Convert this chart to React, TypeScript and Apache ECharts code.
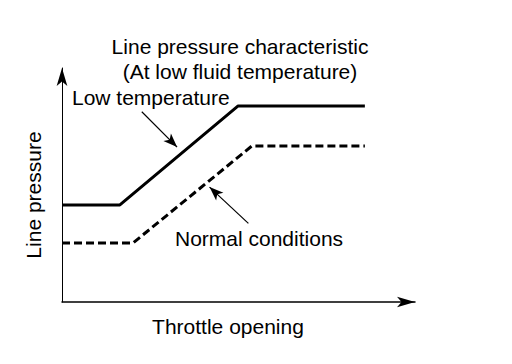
import React, { useEffect, useRef } from "react";
import * as echarts from "echarts";

const titleLines = ["Line pressure characteristic", "(At low fluid temperature)"];
const xAxisName = "Throttle opening";
const yAxisName = "Line pressure";
const lowTempName = "Low temperature";
const normalName = "Normal conditions";

// [throttle %, pressure %]
const lowTemp: [number, number][] = [
  [0, 41.5],
  [16.4, 41.5],
  [49.9, 83.8],
  [85.8, 83.8],
];
const normal: [number, number][] = [
  [0, 25.2],
  [20.1, 25.2],
  [53.8, 66.7],
  [85.8, 66.7],
];
// annotation arrows: [tail, head] in data coordinates
const lowTempArrow: [number, number][] = [
  [22.6, 81.3],
  [32.6, 66.2],
];
const normalArrow: [number, number][] = [
  [52.8, 33.6],
  [41.8, 49.1],
];

const FONT = "'Liberation Sans', Arial, Helvetica, sans-serif";

export default function App() {
  const ref = useRef<HTMLDivElement>(null);
  useEffect(() => {
    if (!ref.current) return;
    const chart = echarts.init(ref.current, null, { renderer: "svg" });
    const arrowLine = (pts: [number, number][]) => ({
      silent: true,
      symbol: ["none", "arrow"],
      symbolSize: [8, 14],
      label: { show: false },
      lineStyle: { color: "#000", width: 1.2, type: "solid" },
      data: [[{ coord: pts[0] }, { coord: pts[1] }]],
    });
    chart.setOption({
      animation: false,
      backgroundColor: "#fff",
      textStyle: { fontFamily: FONT, color: "#000" },
      title: {
        text: titleLines.join("\n"),
        left: 235,
        top: 29,
        textAlign: "center",
        textStyle: {
          fontFamily: FONT,
          fontSize: 21,
          fontWeight: "normal",
          color: "#000",
          lineHeight: 25,
        },
      },
      grid: { left: 62, right: 97, top: 68, bottom: 62, containLabel: false },
      xAxis: {
        type: "value",
        min: 0,
        max: 100,
        name: xAxisName,
        nameLocation: "middle",
        nameGap: 14,
        nameTextStyle: { fontFamily: FONT, fontSize: 21, color: "#000", padding: [0, 21, 0, 0] },
        axisLine: {
          onZero: false,
          lineStyle: { color: "#000", width: 1.5 },
          symbol: ["none", "arrow"],
          symbolSize: [8, 18],
        },
        axisTick: { show: false },
        axisLabel: { show: false },
        splitLine: { show: false },
      },
      yAxis: {
        type: "value",
        min: 0,
        max: 100,
        name: yAxisName,
        nameLocation: "middle",
        nameGap: 18,
        nameTextStyle: { fontFamily: FONT, fontSize: 21, color: "#000", padding: [0, 20, 0, 0] },
        axisLine: {
          onZero: false,
          lineStyle: { color: "#000", width: 1 },
          symbol: ["none", "arrow"],
          symbolSize: [8, 18],
        },
        axisTick: { show: false },
        axisLabel: { show: false },
        splitLine: { show: false },
      },
      series: [
        {
          name: lowTempName,
          type: "line",
          data: lowTemp,
          symbol: "none",
          lineStyle: { color: "#000", width: 3, type: "solid" },
          markLine: arrowLine(lowTempArrow),
        },
        {
          name: normalName,
          type: "line",
          data: normal,
          symbol: "none",
          lineStyle: { color: "#000", width: 3, type: [8, 4] },
          markLine: arrowLine(normalArrow),
        },
      ],
      graphic: [
        {
          type: "text",
          x: 72,
          y: 97,
          style: {
            text: lowTempName,
            font: `21px ${FONT}`,
            fill: "#000",
            textAlign: "left",
            textVerticalAlign: "middle",
          },
        },
        {
          type: "text",
          x: 175,
          y: 238,
          style: {
            text: normalName,
            font: `21px ${FONT}`,
            fill: "#000",
            textAlign: "left",
            textVerticalAlign: "middle",
          },
        },
      ],
    });
    return () => chart.dispose();
  }, []);
  return <div ref={ref} style={{ width: 512, height: 364, position: "absolute", left: 0, top: 0 }} />;
}
